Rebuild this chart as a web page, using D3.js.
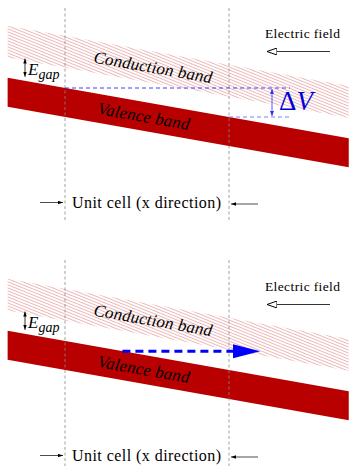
<!DOCTYPE html>
<html>
<head>
<meta charset="utf-8">
<script src="https://cdn.jsdelivr.net/npm/d3@7"></script>
<style>
  body { margin: 0; background: #fff; }
</style>
</head>
<body>
<div id="diagram"></div>
<script>
/* band diagram in a field: two panels, same bands */

// x in unit cells, energy in units of dV (drop across one cell)
const bandSpan = [-0.35, 1.73];
const cellEdges = [0, 1];
const fieldDrop = 1;              // energy drop per unit cell
const valenceEdges = [0, -1.0];   // top, bottom (relative to band tilt)
const conductionEdges = [1.8, 0.7]; // top, bottom
const panels = ["potential", "transport"];
const carrierArrow = [0.35, 1.02]; // bottom panel, cell units
const carrierLevel = -0.35;         // energy of the blue arrow

const width = 349, height = 466, panelStep = 253;
const serif = "'Liberation Serif', 'Times New Roman', Tinos, 'Nimbus Roman', 'DejaVu Serif', serif";

let svg = d3.select("#diagram")
  .append("svg")
  .attr("width", width)
  .attr("height", height)
  .attr("viewBox", [0, 0, width, height])
  .attr("font-family", serif);

let x = d3.scaleLinear().domain([0, 1]).range([65, 229]);
let y = d3.scaleLinear().domain([0, 1]).range([88, 59]);

let defs = svg.append("defs");

/* hatch for conduction band */
defs.append("pattern")
  .attr("id", "hatch")
  .attr("patternUnits", "userSpaceOnUse")
  .attr("width", 10).attr("height", 2.8)
  .attr("patternTransform", "rotate(22)")
  .append("line")
  .attr("x1", 0).attr("x2", 10)
  .attr("y1", 1.4).attr("y2", 1.4)
  .attr("stroke", "#e6999a")
  .attr("stroke-width", 0.7);

function marker(id, color, open, w, h) {
  defs.append("marker")
    .attr("id", id)
    .attr("viewBox", `0 0 ${w} ${h}`)
    .attr("refX", w).attr("refY", h / 2)
    .attr("markerWidth", w).attr("markerHeight", h)
    .attr("markerUnits", "userSpaceOnUse")
    .attr("orient", "auto-start-reverse")
    .append("path")
    .attr("d", `M0,0L${w},${h / 2}L0,${h}Z`)
    .attr("fill", open ? "#fff" : color)
    .attr("stroke", color)
    .attr("stroke-width", open ? 1 : 0);
}
marker("tip", "#000", false, 5, 3.5);
marker("openTip", "#000", true, 10, 7);
marker("blueTip", "#3030ff", false, 5, 4);

const tilt = u => -fieldDrop * u;
const bandPoly = (edges) => {
  let [top, bot] = edges;
  let pts = [
    [bandSpan[0], tilt(bandSpan[0]) + top],
    [bandSpan[1], tilt(bandSpan[1]) + top],
    [bandSpan[1], tilt(bandSpan[1]) + bot],
    [bandSpan[0], tilt(bandSpan[0]) + bot]
  ];
  return pts.map(p => [x(p[0]), y(p[1])]);
};
const angle = Math.atan2(y(-fieldDrop) - y(0), x(1) - x(0)) * 180 / Math.PI;

panels.forEach((kind, i) => {
  let g = svg.append("g").attr("transform", `translate(0,${i * panelStep})`);

  // bands
  g.append("polygon")
    .attr("points", bandPoly(conductionEdges).join(" "))
    .attr("fill", "url(#hatch)");
  g.append("polygon")
    .attr("points", bandPoly(valenceEdges).join(" "))
    .attr("fill", "#b80000");

  // unit cell boundaries
  g.selectAll(".cell")
    .data(cellEdges)
    .join("line")
    .attr("x1", d => x(d)).attr("x2", d => x(d))
    .attr("y1", i ? 7 : 8).attr("y2", i ? 213 : 220)
    .attr("stroke", "#888")
    .attr("stroke-width", 0.8)
    .attr("stroke-dasharray", "3,2.5");

  // band labels
  let labels = [
    { t: "Conduction band", u: 0.537, e: (conductionEdges[0] + conductionEdges[1]) / 2, len: 120, c: "#000" },
    { t: "Valence band", u: 0.48, e: (valenceEdges[0] + valenceEdges[1]) / 2, len: 93, c: "#000" }
  ];
  g.selectAll(".blabel")
    .data(labels)
    .join("text")
    .attr("transform", d => `translate(${x(d.u)},${y(tilt(d.u) + d.e)}) rotate(${angle})`)
    .attr("text-anchor", "middle")
    .attr("dy", "0.33em")
    .attr("textLength", d => d.len)
    .attr("lengthAdjust", "spacing")
    .attr("font-style", "italic")
    .attr("font-size", 17)
    .attr("fill", d => d.c)
    .text(d => d.t);

  // E_gap
  g.append("line")
    .attr("x1", 25).attr("x2", 25)
    .attr("y1", y(tilt(bandSpan[0]) + conductionEdges[1]) + 1)
    .attr("y2", y(tilt(bandSpan[0]) + valenceEdges[0]) - 1)
    .attr("stroke", "#000").attr("stroke-width", 0.8)
    .attr("marker-start", "url(#tip)")
    .attr("marker-end", "url(#tip)");
  let eg = g.append("text")
    .attr("x", 28).attr("y", 75)
    .attr("font-style", "italic")
    .attr("font-size", 17);
  eg.append("tspan").text("E");
  eg.append("tspan").attr("dy", 4).attr("font-size", 14).text("gap");

  // electric field
  g.append("text")
    .attr("x", 265).attr("y", 38)
    .attr("textLength", 75)
    .attr("font-size", 13.5)
    .text("Electric field");
  g.append("line")
    .attr("x1", 330).attr("x2", 267)
    .attr("y1", 51.5).attr("y2", 51.5)
    .attr("stroke", "#000").attr("stroke-width", 0.8)
    .attr("marker-end", "url(#openTip)");

  // unit cell label
  g.append("text")
    .attr("x", 72).attr("y", 208)
    .attr("textLength", 149)
    .attr("font-size", 16)
    .text("Unit cell (x direction)");
  g.append("line")
    .attr("x1", 40).attr("x2", 63)
    .attr("y1", 202.5).attr("y2", 202.5)
    .attr("stroke", "#000").attr("stroke-width", 0.7)
    .attr("marker-end", "url(#tip)");
  g.append("line")
    .attr("x1", 258).attr("x2", 231)
    .attr("y1", 204).attr("y2", 204)
    .attr("stroke", "#000").attr("stroke-width", 0.7)
    .attr("marker-end", "url(#tip)");

  if (kind === "potential") {
    // potential drop across a cell
    let xr = 290, xa = 272;
    g.append("line")
      .attr("x1", x(0)).attr("x2", xr)
      .attr("y1", y(tilt(0))).attr("y2", y(tilt(0)))
      .attr("stroke", "#2a2aff").attr("stroke-width", 0.9)
      .attr("stroke-dasharray", "4,3");
    g.append("line")
      .attr("x1", x(1)).attr("x2", xr)
      .attr("y1", y(tilt(1))).attr("y2", y(tilt(1)))
      .attr("stroke", "#7070ff").attr("stroke-width", 0.9)
      .attr("stroke-dasharray", "4,3");
    g.append("line")
      .attr("x1", xa).attr("x2", xa)
      .attr("y1", y(tilt(0)) + 1).attr("y2", y(tilt(1)) - 1)
      .attr("stroke", "#3030ff").attr("stroke-width", 0.8)
      .attr("marker-start", "url(#blueTip)")
      .attr("marker-end", "url(#blueTip)");
    let dv = g.append("text")
      .attr("x", 279).attr("y", 110)
      .attr("font-size", 27)
      .attr("fill", "#0000dd");
    dv.append("tspan").text("\u0394");
    dv.append("tspan").attr("font-style", "italic").text("V");
  } else {
    // carrier moving along the field direction
    let yc = y(carrierLevel);
    g.append("line")
      .attr("x1", x(carrierArrow[0])).attr("x2", x(1) + 4)
      .attr("y1", yc).attr("y2", yc)
      .attr("stroke", "#0000ff").attr("stroke-width", 3)
      .attr("stroke-dasharray", "8,5");
    g.append("path")
      .attr("d", `M${x(1) + 4},${yc - 7}L${x(carrierArrow[1]) + 28},${yc}L${x(1) + 4},${yc + 7}Z`)
      .attr("fill", "#0000ff");
  }
});
</script>
</body>
</html>
